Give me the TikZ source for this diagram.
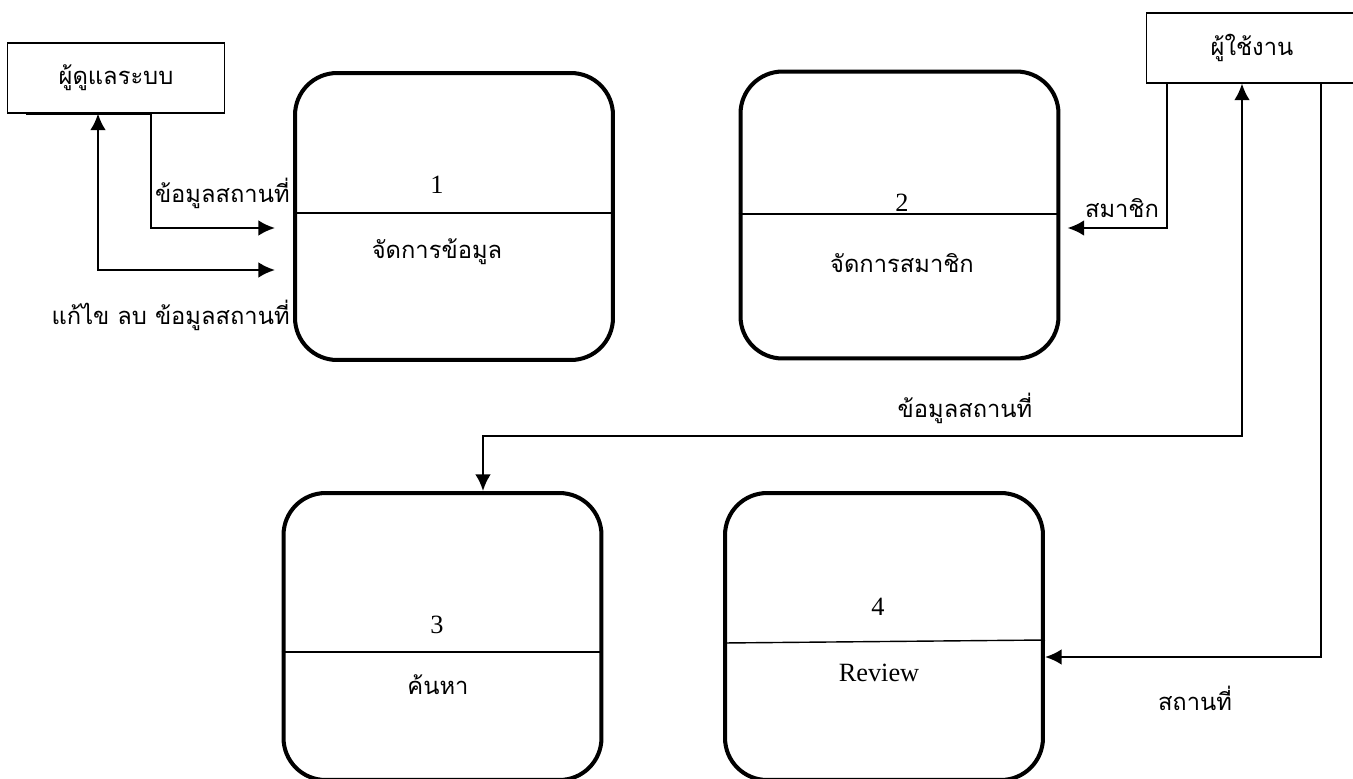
\documentclass[tikz,border=0pt]{standalone}
\usepackage{fontspec}
\setmainfont{Liberation Serif}
\newfontfamily\thai[Script=Thai]{Loma}
\usetikzlibrary{arrows.meta}

\begin{document}
\begin{tikzpicture}[
      x=0.02cm, y=-0.02cm,
      process/.style={draw, line width=2.3pt, rounded corners=0.84cm, minimum width=6.36cm, minimum height=5.74cm}, % procesos
      entity/.style={draw, line width=0.6pt, minimum height=1.4cm, font=\thai\fontsize{13.5}{16}\selectfont},
      divider/.style={line width=0.8pt},
      flow/.style={line width=1.4pt, -{Latex[length=9.5pt, width=9pt]}},
      both/.style={{Latex[length=9.5pt, width=9pt]}-{Latex[length=9.5pt, width=9pt]}},
      num/.style={font=\fontsize{15}{18}\selectfont, inner sep=0pt},
      txt/.style={font=\thai\fontsize{13.5}{16}\selectfont, inner sep=0pt}
    ]
    \useasboundingbox (0,0) rectangle (1353,778);

    % Entidades externas
    \node [entity, minimum width=4.34cm] (admin) at (116,78) {ผู้ดูแลระบบ};
    \node [entity, minimum width=4.24cm] (user) at (1252,48) {ผู้ใช้งาน};

    % Procesos
    \node [process] (p1) at (454,216.5) {};
    \node [process] (p2) at (899.5,215) {};
    \node [process] (p3) at (442.5,636.5) {};
    \node [process] (p4) at (884,636.5) {};

    \draw [divider] ([yshift=0.07cm]p1.west) -- ([yshift=0.07cm]p1.east);
    \draw [divider] ([yshift=0.02cm]p2.west) -- ([yshift=0.02cm]p2.east);
    \draw [divider] ([yshift=-0.31cm]p3.west) -- ([yshift=-0.31cm]p3.east);
    \draw [divider] ([yshift=-0.13cm]p4.west) -- ([yshift=-0.07cm]p4.east);

    \node [num] (n1) at (437,185) {1};
    \node [txt] (t1) at (437,252) {จัดการข้อมูล};
    \node [num] (n2) at (902,203) {2};
    \node [txt] (t2) at (902,263) {จัดการสมาชิก};
    \node [num] (n3) at (437,625) {3};
    \node [txt] (t3) at (438,685) {ค้นหา};
    \node [num] (n4) at (878,607) {4};
    \node [num] (t4) at (879,673) {Review};

    % Flujos de datos
    \draw [line width=1.4pt] ([xshift=0.39cm]admin.south west) -- ([xshift=0.7cm]admin.south);
    \draw [flow, shorten >=0.36cm] ([xshift=0.7cm]admin.south) |- ([yshift=-0.23cm]p1.west);
    \draw [flow, both, shorten >=0.36cm]
      ([xshift=-0.36cm]admin.south) |- ([yshift=-1.07cm]p1.west);
    \draw [flow, shorten >=0.14cm] ([xshift=-1.7cm]user.south) |- ([yshift=-0.26cm]p2.east);
    \coordinate (bend) at (483,436);
    \draw [flow, both]
      ([xshift=-0.2cm]user.south) |- (bend) -- (bend |- p3.north);
    \draw [flow] ([xshift=1.38cm]user.south) |- ([yshift=-0.41cm]p4.east);

    % Etiquetas de los flujos
    \node [txt, anchor=east] (l1) at (290,193) {ข้อมูลสถานที่};
    \node [txt, anchor=east] (l2) at (290,315) {แก้ไข ลบ ข้อมูลสถานที่};
    \node [txt] (l3) at (1122,208) {สมาชิก};
    \node [txt] (l4) at (965,408) {ข้อมูลสถานที่};
    \node [txt] (l5) at (1195,698) {สถานที่};
\end{tikzpicture}
\end{document}
